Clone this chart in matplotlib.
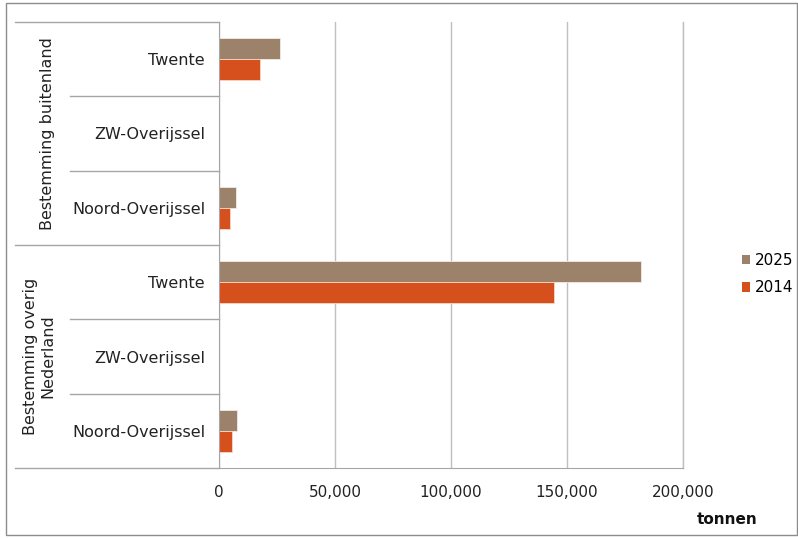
import matplotlib
matplotlib.use("Agg")
import matplotlib.pyplot as plt
from matplotlib.patches import Rectangle, Patch
import numpy as np

# tonnage per region and destination
groups = ["Bestemming buitenland", "Bestemming overig\nNederland"]
regions = ["Twente", "ZW-Overijssel", "Noord-Overijssel"]
years = ["2025", "2014"]
values_2025 = [26200, 0, 7200, 181900, 0, 7600]
values_2014 = [17600, 0, 4900, 144600, 0, 5600]
xticks = [0, 50000, 100000, 150000, 200000]

c2025 = "#9C826A"
c2014 = "#D5501C"
grid_c = "#BFBFBF"
axis_c = "#A6A6A6"

plt.rcParams["font.family"] = "DejaVu Sans"

fig = plt.figure(figsize=(7.98, 5.38), dpi=100)
ax = fig.add_axes([219 / 798, 1 - 468 / 538, 464 / 798, 446 / 538])

labels = regions * len(groups)
y = np.arange(len(labels))
h = 0.28
ax.barh(y - h / 2, values_2025, height=h, color=c2025, edgecolor="#F3EBE3", linewidth=0.6, zorder=2)
ax.barh(y + h / 2, values_2014, height=h, color=c2014, edgecolor="#F8D8C8", linewidth=0.6, zorder=2)

ax.set_ylim(len(labels) - 0.5, -0.5)
ax.set_xlim(0, 200000)
ax.set_yticks(y)
ax.set_yticklabels(labels, fontsize=11.5, color="#222222")
ax.tick_params(axis="y", length=0, pad=10)
ax.set_xticks(xticks)
ax.set_xticklabels([f"{v:,}" for v in xticks], fontsize=11, color="#222222")
ax.tick_params(axis="x", length=0, pad=12)

ax.grid(axis="x", color=grid_c, linewidth=1, zorder=0)
ax.axvline(200000, color=grid_c, linewidth=1, zorder=0, clip_on=False)
for s in ["top", "right"]:
    ax.spines[s].set_visible(False)
ax.spines["left"].set_color(axis_c)
ax.spines["left"].set_zorder(3)
ax.spines["bottom"].set_color(axis_c)
ax.spines["bottom"].set_bounds(0, 200000)

# separators of the category axis
tr = ax.get_yaxis_transform()
x_outer = -204 / 464
x_inner = -149 / 464
for b in [-0.5, 2.5, 5.5]:
    ax.plot([x_outer, 0], [b, b], transform=tr, color=axis_c, lw=1, clip_on=False)
for b in [0.5, 1.5, 3.5, 4.5]:
    ax.plot([x_inner, 0], [b, b], transform=tr, color=axis_c, lw=1, clip_on=False)

# group labels
for i, g in enumerate(groups):
    ax.text((55 - 219) / 464, 1 + 3 * i, g, transform=tr, rotation=90,
            ha="right", va="center", fontsize=11.5, color="#222222", multialignment="center")

handles = [Patch(facecolor=c2025, edgecolor="none"), Patch(facecolor=c2014, edgecolor="none")]
fig.legend(handles, years, loc="center left", bbox_to_anchor=(734 / 798, 1 - 274 / 538),
           frameon=False, fontsize=11, handlelength=0.55, handleheight=0.55,
           handletextpad=0.3, labelspacing=0.85, borderpad=0)

fig.text(727 / 798, 1 - 520 / 538, "tonnen", ha="center", va="center",
         fontsize=11, fontweight="bold", color="#111111")

fig.patches.append(Rectangle((6 / 798, 3 / 538), 791 / 798, 532 / 538, transform=fig.transFigure,
                             fill=False, edgecolor="#8C8C8C", linewidth=1))

fig.savefig("out.png", dpi=100)
